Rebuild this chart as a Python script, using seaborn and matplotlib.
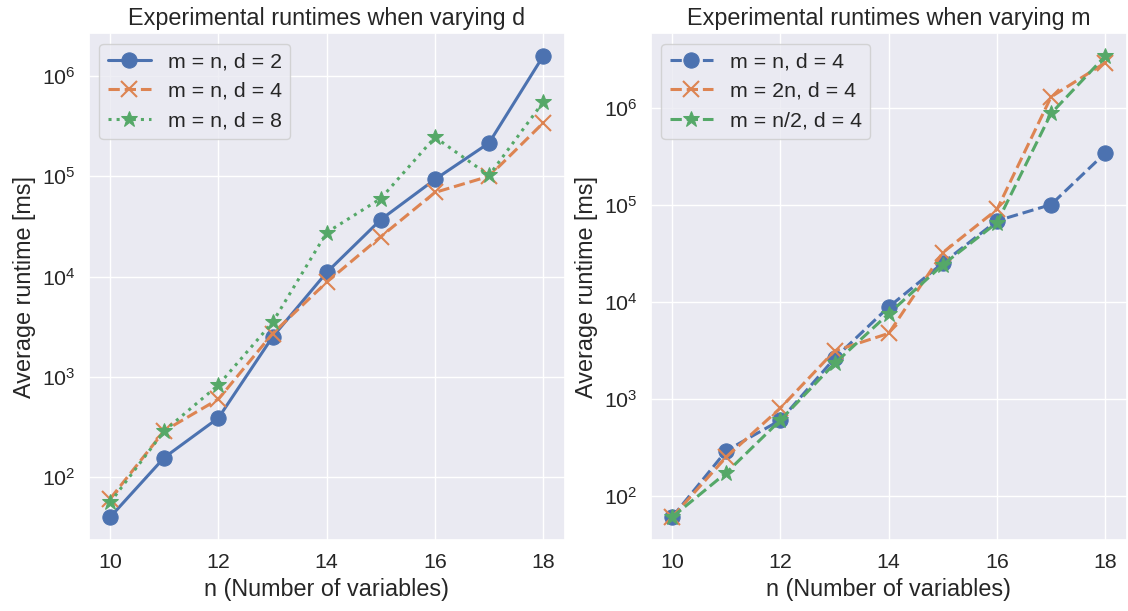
import matplotlib
matplotlib.use('Agg')
import matplotlib.pyplot as plt
import seaborn as sns
import numpy as np

# Style
sns.set_theme(style='darkgrid', context='notebook', font_scale=1.4)
plt.rcParams['font.family'] = ['Liberation Sans', 'DejaVu Sans']
plt.rcParams['mathtext.fontset'] = 'custom'
plt.rcParams['mathtext.rm'] = 'Liberation Sans'
plt.rcParams['mathtext.it'] = 'Liberation Sans:italic'
plt.rcParams['mathtext.bf'] = 'Liberation Sans:bold'

# Data (average runtime in ms), n = number of variables
n_values = [10, 11, 12, 13, 14, 15, 16, 17, 18]

# varying d (m = n)
d2 = [40, 157, 390, 2500, 11000, 37000, 93000, 215000, 1580000]
d4 = [61, 290, 600, 2700, 8800, 25000, 69000, 100000, 340000]
d8 = [56, 290, 830, 3500, 27500, 60000, 245000, 102000, 550000]

# varying m (d = 4)
m_n = [60, 290, 600, 2600, 8800, 25000, 68000, 100000, 340000]
m_2n = [60, 250, 800, 3100, 4700, 32000, 89000, 1290000, 2900000]
m_half = [60, 172, 600, 2300, 7500, 24000, 65000, 870000, 3400000]

colors = sns.color_palette()
marker_kw = {
    'o': dict(markersize=11),
    'x': dict(markersize=11, markeredgewidth=1.5),
    '*': dict(markersize=12),
}


def draw(ax, y, c, marker, ls, label):
    sns.lineplot(x=n_values, y=y, ax=ax, color=c, marker=marker, linestyle=ls,
                 linewidth=2.2, markeredgecolor=c, label=label, **marker_kw[marker])


fig, (ax1, ax2) = plt.subplots(1, 2, figsize=(11.28, 6.11), dpi=100)
fig.subplots_adjust(left=0.0785, right=0.999, bottom=0.116, top=0.946, wspace=0.18)

# Left panel
draw(ax1, d2, colors[0], 'o', '-', 'm = n, d = 2')
draw(ax1, d4, colors[1], 'x', '--', 'm = n, d = 4')
draw(ax1, d8, colors[2], '*', ':', 'm = n, d = 8')
ax1.set_yscale('log')
ax1.set_title('Experimental runtimes when varying d')
ax1.set_xlabel('n (Number of variables)')
ax1.set_ylabel('Average runtime [ms]')
ax1.legend(loc='upper left')

# Right panel
draw(ax2, m_n, colors[0], 'o', '--', 'm = n, d = 4')
draw(ax2, m_2n, colors[1], 'x', '--', 'm = 2n, d = 4')
draw(ax2, m_half, colors[2], '*', '--', 'm = n/2, d = 4')
ax2.set_yscale('log')
ax2.set_title('Experimental runtimes when varying m')
ax2.set_xlabel('n (Number of variables)')
ax2.set_ylabel('Average runtime [ms]')
ax2.legend(loc='upper left')

for ax in (ax1, ax2):
    ax.set_xticks([10, 12, 14, 16, 18])

plt.savefig('out.png', dpi=100)
plt.close()
